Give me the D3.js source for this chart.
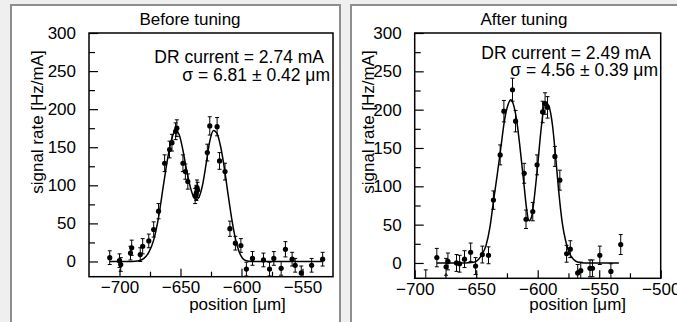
<!DOCTYPE html>
<html><head><meta charset="utf-8">
<script src="https://cdn.jsdelivr.net/npm/d3@7"></script>
<style>
body{margin:0;background:#efefef;}
svg{display:block;font-family:"Liberation Sans",Arial,Helvetica,sans-serif;}
</style>
</head><body>
<svg width="677" height="322"></svg>
<script>
// ---------- data ----------
const beforeX   = [-708,-700,-699,-691,-690,-683,-681,-676,-672,-668,-663,-659,-657,-654,-653,-648,-646,-644,-638,-637,-636.5,-636,-628,-626,-620,-618,-613.5,-609.5,-605,-600.5,-596,-591,-582,-577,-573.5,-567.5,-564,-558.5,-556,-551,-542.5,-533.5];
const beforeY   = [5,1,-4,11,18,9,20,27,42,66,129,147,156,171,175,129,118,105,86,90,97,94,143,178,177,132,118,43,24,21,-10,4,2,-10,4,-9,16,3,-5,-15,-5,3];
const beforeErr = [9,9,9,9,10,9,10,9,10,10,11,11,11,11,11,11,10,10,10,10,10,10,11,12,12,11,11,10,9,9,9,9,9,9,9,9,10,9,9,9,9,9];
const beforeFitX = [-708,-690,-684,-680,-676,-672,-668,-664,-660,-657,-654,-651,-648,-645,-642,-639,-637,-635,-632,-629,-626,-623,-620,-617,-614,-611,-608,-605,-602,-599,-596,-592,-534];
const beforeFitY = [0,0,1,4,12,28,58,100,140,162,172,166,146,120,98,84,81,84,100,128,158,172,168,150,122,88,56,30,13,4,1,0,0];

const afterX   = [-691,-682,-674.5,-673,-666,-663.5,-659.5,-654.5,-650.5,-645,-640,-636,-630.5,-627.5,-620.5,-618,-611,-609.5,-604,-600.5,-596,-594,-592,-586,-582,-576.5,-573.5,-567.5,-565,-557.5,-555.5,-549.5,-540.5,-532.5];
const afterY   = [-25,7,-5,2,0,-1,5,14,-4,11,10,82,141,198,226,185,117,57,67,128,197,208,203,139,108,12,18,-13,-10,-7,-7,10,-11,24];
const afterErr = [16,12,11,11,11,11,11,12,11,11,11,12,13,14,15,14,13,12,12,13,14,14,14,13,13,11,11,11,11,11,11,12,10,13];
const afterFitX = [-682,-660,-652,-648,-645,-642,-639,-636,-633,-630,-627,-624,-622,-620,-617,-614,-611,-609,-607,-605,-603,-600,-597,-594,-591,-588,-585.5,-583,-580,-577,-574,-571,-567,-562,-534];
const afterFitY = [0,0,1,5,12,23,45,80,114,150,186,207,213,208,185,145,100,70,55,60,82,128,178,210,205,180,140,95,52,27,12,5,1,0,0];

const yMajorTicks = [0,50,100,150,200,250,300];
const yMinorTicks = [25,75,125,175,225,275];
const beforeXMajor = [-700,-650,-600,-550];
const beforeXMinor = [-725,-675,-625,-575,-525];
const afterXMajor = [-700,-650,-600,-550,-500];
const afterXMinor = [-675,-625,-575,-525];

const titles = ["Before tuning","After tuning"];
const currentLabels = ["DR current = 2.74 mA","DR current = 2.49 mA"];
const sigmaLabels = ["\u03c3 = 6.81 \u00b1 0.42 \u03bcm","\u03c3 = 4.56 \u00b1 0.39 \u03bcm"];
const yTitle = "signal rate [Hz/mA]";
const xTitle = "position [\u03bcm]";

// ---------- drawing ----------
const svg = d3.select("svg");
svg.append("rect").attr("width",677).attr("height",322).attr("fill","#efefef");

function panel(cfg, idx){
  const g = svg.append("g");
  g.append("rect").attr("x",cfg.box[0]).attr("y",cfg.box[1]).attr("width",cfg.box[2]).attr("height",cfg.box[3])
    .attr("fill","#fff").attr("stroke","#8e8e8e").attr("stroke-width",2);

  const x = d3.scaleLinear().domain(cfg.xDomain).range([cfg.f[0],cfg.f[1]]);
  const y = d3.scaleLinear().domain([-20,300]).range([cfg.f[3],cfg.f[2]]);

  const clipId = "clip"+idx;
  g.append("clipPath").attr("id",clipId).append("rect")
    .attr("x",cfg.f[0]).attr("y",cfg.f[2]).attr("width",cfg.f[1]-cfg.f[0]).attr("height",cfg.f[3]-cfg.f[2]);

  // axes
  const fs = "17px";
  const ya = g.append("g").attr("transform",`translate(${cfg.f[0]},0)`)
    .call(d3.axisLeft(y).tickValues(yMajorTicks).tickSize(-9).tickPadding(13).tickFormat(d3.format("d")));
  const yb = g.append("g").attr("transform",`translate(${cfg.f[0]},0)`)
    .call(d3.axisLeft(y).tickValues(yMinorTicks).tickSize(-6).tickFormat(""));
  const xa = g.append("g").attr("transform",`translate(0,${cfg.f[3]})`)
    .call(d3.axisBottom(x).tickValues(cfg.xMajor).tickSize(-8).tickPadding(4.5));
  const xb = g.append("g").attr("transform",`translate(0,${cfg.f[3]})`)
    .call(d3.axisBottom(x).tickValues(cfg.xMinor.filter(v=>v>cfg.xDomain[0]&&v<cfg.xDomain[1])).tickSize(-5).tickFormat(""));
  [ya,yb,xa,xb].forEach(a=>{
    a.select(".domain").remove();
    a.selectAll("line").attr("stroke","#000").attr("stroke-width",1.2);
    a.selectAll("text").attr("font-size",fs).attr("fill","#000").attr("font-family",null);
  });

  // fit curve
  const fit = cfg.fitX.map((v,i)=>[v,cfg.fitY[i]]);
  const pg = g.append("g").attr("clip-path",`url(#${clipId})`);
  pg.append("path").datum(fit)
    .attr("d",d3.line().x(d=>x(d[0])).y(d=>y(d[1])).curve(d3.curveMonotoneX))
    .attr("fill","none").attr("stroke","#000").attr("stroke-width",1.5);

  // data points with error bars
  const pts = cfg.px.map((v,i)=>({x:v,y:cfg.py[i],e:cfg.pe[i]}));
  const pe = pg.selectAll("g.pt").data(pts).join("g").attr("class","pt");
  pe.append("line").attr("x1",d=>x(d.x)).attr("x2",d=>x(d.x))
    .attr("y1",d=>y(d.y-d.e)).attr("y2",d=>y(d.y+d.e)).attr("stroke","#000").attr("stroke-width",1);
  pe.append("line").attr("x1",d=>x(d.x)-2).attr("x2",d=>x(d.x)+2)
    .attr("y1",d=>y(d.y+d.e)).attr("y2",d=>y(d.y+d.e)).attr("stroke","#000").attr("stroke-width",1);
  pe.append("line").attr("x1",d=>x(d.x)-2).attr("x2",d=>x(d.x)+2)
    .attr("y1",d=>y(d.y-d.e)).attr("y2",d=>y(d.y-d.e)).attr("stroke","#000").attr("stroke-width",1);
  pe.append("circle").attr("cx",d=>x(d.x)).attr("cy",d=>y(d.y)).attr("r",2.6).attr("fill","#000");

  // frame
  g.append("rect").attr("x",cfg.f[0]).attr("y",cfg.f[2]).attr("width",cfg.f[1]-cfg.f[0]).attr("height",cfg.f[3]-cfg.f[2])
    .attr("fill","none").attr("stroke","#000").attr("stroke-width",1.5);

  // texts
  g.append("text").attr("x",cfg.title[0]).attr("y",cfg.title[1]).attr("text-anchor","middle")
    .attr("font-size",fs).text(titles[idx]);
  g.append("text").attr("x",cfg.ann1[0]).attr("y",cfg.ann1[1]).attr("text-anchor","end")
    .attr("font-size","17.5px").text(currentLabels[idx]);
  g.append("text").attr("x",cfg.ann2[0]).attr("y",cfg.ann2[1]).attr("text-anchor","end")
    .attr("font-size","17.5px").text(sigmaLabels[idx]);
  g.append("text").attr("transform",`translate(${cfg.yt[0]},${cfg.yt[1]}) rotate(-90)`).attr("text-anchor","middle")
    .attr("font-size",fs).text(yTitle);
  g.append("text").attr("x",cfg.xt[0]).attr("y",cfg.xt[1]).attr("text-anchor","middle")
    .attr("font-size",fs).text(xTitle);
}

panel({box:[11,5,329,340], f:[89,333,33,276.7], xDomain:[-725,-525],
  xMajor:beforeXMajor, xMinor:beforeXMinor,
  px:beforeX, py:beforeY, pe:beforeErr, fitX:beforeFitX, fitY:beforeFitY,
  title:[190,25], ann1:[324,63], ann2:[330,80.5], yt:[42.5,122], xt:[237.5,309.5]}, 0);

panel({box:[351,5,340,340], f:[414.7,660.7,33,278.3], xDomain:[-700,-500],
  xMajor:afterXMajor, xMinor:afterXMinor,
  px:afterX, py:afterY, pe:afterErr, fitX:afterFitX, fitY:afterFitY,
  title:[524,25], ann1:[651,59], ann2:[658,76], yt:[373.5,122], xt:[577.7,310]}, 1);
</script>
</body></html>
